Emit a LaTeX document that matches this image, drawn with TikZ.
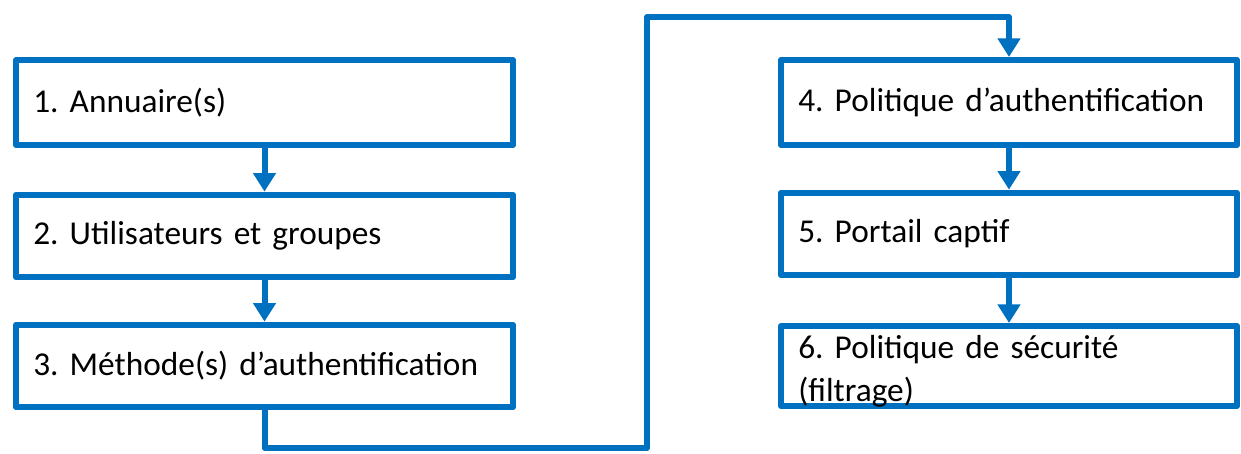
\documentclass[tikz,border=0pt]{standalone}
\usepackage{fontspec}
\setmainfont{Carlito}
\usetikzlibrary{arrows.meta}

\definecolor{bleu}{RGB}{0,112,192}
\frenchspacing

\tikzset{every picture/.style={line width=4.5pt},
  etape/.style={draw=bleu, line join=round, fill=white, minimum width=372.75pt,
    minimum height=62pt, inner xsep=13pt, inner ysep=0pt, align=left,
    text width=346.75pt, font=\fontsize{25}{32}\selectfont},
  etapedroite/.style={etape, minimum width=342pt, text width=316pt},
  fleche/.style={draw=bleu, line join=round, -{Triangle[width=16.5pt,length=14pt]}}}

\begin{document}
\begin{tikzpicture}[x=0.75pt,y=0.75pt,yscale=-1,xscale=1]
		\useasboundingbox (0,0) rectangle (1241,453); %cadre de l'image

		%Shape: Rectangle colonne gauche
		\node [etape, minimum height=63.75pt] (b1) at (264.5,102.5) {1. Annuaire(s)};
		\node [etape] (b2) at (264.5,236) {2. Utilisateurs et groupes};
		\node [etape] (b3) at (264.5,366) {3. Méthode(s) d’authentification};
		%Shape: Rectangle colonne droite
		\node [etapedroite, minimum height=63.75pt] (b4) at (1009,102.5) {4. Politique d’authentification};
		\node [etapedroite] (b5) at (1009,234) {5. Portail captif};
		\node [etapedroite, minimum height=60pt] (b6) at (1009,366) {6. Politique de sécurité\\(filtrage)\par\kern-7.5pt};

		\coordinate (bas) at (647,448);
		\coordinate (haut) at (647,17);

		\draw [fleche] (b1) -- (b2);
		\draw [fleche] (b2) -- (b3);
		\draw [fleche] (b3.south) |- (bas) -- (haut) -| (b4.north);
		\draw [fleche] (b4) -- (b5);
		\draw [fleche] (b5) -- (b6);

	\end{tikzpicture}
\end{document}
